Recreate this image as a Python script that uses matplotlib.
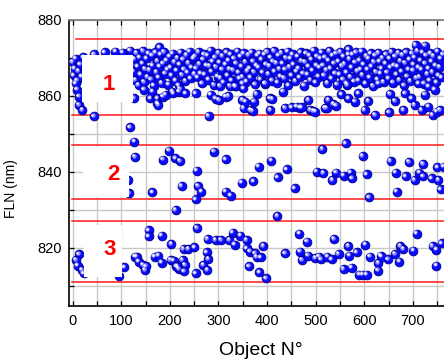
import numpy as np
import matplotlib
matplotlib.use("Agg")
import matplotlib.pyplot as plt
from matplotlib.patches import Rectangle
from matplotlib.transforms import ScaledTranslation

plt.rcParams["font.family"] = ["Liberation Sans", "DejaVu Sans"]

# ── data: FLN per object ────────────────────────────────────────────────────
# group 1, dense band (862–872 nm)
dense_x = [0, 2, 4, 6, 9, 12, 15, 18, 22, 26, 30, 34, 39, 44, 49, 54, 60, 66, 71, 76,
           82, 88, 93, 98, 103, 108, 113, 118, 122,
           125, 127, 129, 132, 134, 136, 138, 140, 143, 145, 147, 149, 152, 154, 156, 158,
           161, 163, 165, 167, 170, 172, 174, 177, 179, 181, 183, 186, 188, 190, 193, 195,
           197, 199, 202, 204, 206, 209, 211, 213, 215, 218, 220, 222, 225, 227, 229, 232,
           234, 236, 238, 241, 243, 245, 248, 250,
           252, 254, 257, 259, 261, 263, 266, 268, 270, 272, 275, 277, 279, 282, 284, 286,
           288, 291, 293, 295, 298, 300, 302, 304, 307, 309, 311, 314, 316, 318, 320, 323,
           325, 327, 330, 332, 334, 336, 339, 341, 343, 346, 348, 350, 352, 355, 357, 359,
           362, 364, 366, 368, 371, 373, 375, 378, 380,
           382, 384, 387, 389, 391, 394, 396, 398, 400, 403, 405, 407, 410, 412, 414, 416,
           419, 421, 423, 426, 428, 430, 432, 435, 437, 439, 442, 444, 446, 448, 451, 453,
           455, 458, 460, 462, 464, 467, 469, 471, 474, 476, 478, 480, 483, 485, 487, 490,
           492, 494, 496, 499, 501, 503, 506, 508, 510,
           512, 515, 517, 519, 522, 524, 526, 528, 531, 533, 535, 538, 540, 542, 544, 547,
           549, 551, 554, 556, 558, 560, 563, 565, 567, 570, 572, 574, 576, 579, 581, 583,
           586, 588, 590, 592, 595, 597, 599, 602, 604, 606, 608, 611, 613, 615, 618, 620,
           622, 624, 627, 629, 631, 634, 636, 638, 640,
           643, 645, 647, 650, 652, 654, 656, 659, 661, 663, 666, 668, 670, 672, 675, 677,
           679, 682, 684, 686, 688, 691, 693, 695, 698, 700, 702, 704, 707, 709, 711, 714,
           716, 718, 720, 723, 725, 727, 730, 732, 734, 736, 739, 741, 743, 746, 748, 750,
           752, 755, 757, 759, 762]
dense_y = [868.9, 865.4, 867.2, 869.8, 864.1, 866.6, 868.3, 865.1, 870.2, 866.9, 863.8, 868.7,
           865.9, 871.0, 867.3, 864.6, 869.4, 871.5, 866.2, 868.8, 863.5, 871.7, 867.6, 865.2,
           871.4, 869.3, 866.0, 871.9, 868.1,
           866.4, 869.7, 864.2, 871.3, 867.8, 862.9, 870.1, 865.6, 868.5, 871.8, 863.7, 867.1,
           869.9, 865.0, 871.2, 866.8, 864.4, 870.6, 868.0, 862.7, 871.5, 866.3, 869.2, 864.8,
           867.7, 870.9, 863.4, 868.6, 871.6, 865.9, 869.4, 866.9, 863.0, 870.4, 867.5, 865.3,
           871.1, 868.9, 864.0, 866.7, 870.0, 862.8, 868.3, 871.4, 865.5, 869.6, 867.0, 863.9,
           870.8, 866.1, 868.7, 871.7, 864.6, 867.4, 869.8, 865.8,
           870.3, 867.2, 864.9, 871.6, 868.4, 866.0, 863.3, 869.5, 871.0, 865.7, 868.1, 870.7,
           864.3, 867.9, 871.9, 866.5, 869.0, 862.9, 870.2, 867.6, 865.1, 871.3, 868.8, 864.7,
           866.9, 870.5, 863.6, 868.2, 871.5, 865.4, 869.3, 867.1, 871.0, 864.1, 866.8, 869.9,
           862.6, 868.5, 871.7, 866.2, 864.5, 870.4, 867.8, 865.0, 871.2, 868.9, 863.8, 866.6,
           870.8, 867.3, 864.8, 871.4, 869.1, 866.3, 863.1, 868.0, 870.6,
           867.5, 871.1, 864.4, 869.6, 866.1, 870.9, 863.2, 868.3, 871.6, 865.8, 867.9, 870.2,
           864.0, 869.0, 871.8, 866.4, 868.7, 863.5, 870.6, 867.1, 865.2, 871.3, 868.5, 864.7,
           866.9, 870.0, 871.7, 862.8, 867.6, 869.8, 865.4, 871.0, 868.2, 863.9, 866.5, 870.4,
           867.3, 864.9, 871.5, 869.2, 866.0, 862.7, 868.9, 871.2, 865.6, 867.8, 870.7, 864.2,
           869.5, 866.7, 871.9, 863.6, 868.1, 870.3, 865.1, 867.4, 869.9,
           871.4, 868.0, 865.3, 870.1, 866.8, 863.4, 869.4, 871.8, 867.2, 864.6, 870.7, 868.6,
           866.0, 871.1, 863.0, 869.0, 865.7, 871.6, 867.9, 864.3, 870.3, 868.4, 866.2, 862.9,
           871.0, 869.7, 865.0, 867.5, 870.9, 863.8, 868.8, 871.5, 866.6, 864.1, 869.3, 867.0,
           871.7, 865.5, 868.2, 863.3, 870.5, 866.9, 869.8, 864.8, 871.2, 867.7, 862.6, 868.9,
           870.6, 866.3, 864.4, 871.3, 869.1, 865.9, 867.3, 870.0, 863.7,
           868.5, 871.0, 866.1, 864.5, 869.9, 867.4, 871.6, 863.5, 868.1, 870.4, 865.6, 867.8,
           871.3, 864.2, 869.2, 866.5, 870.8, 862.8, 868.7, 871.5, 865.2, 867.0, 869.6, 863.9,
           871.1, 866.7, 868.3, 870.2, 864.7, 871.8, 867.5, 865.0, 869.4, 866.9, 871.4, 863.2,
           868.6, 870.7, 865.8, 867.2, 864.0, 871.2, 869.0, 866.3, 870.5, 868.0, 863.6, 871.7,
           865.4, 867.6, 869.8, 864.9, 870.9]

# group 1, scattered points above / below the band
sparse1_x = [178, 567, 706, 725,
             6, 9, 13, 13, 20, 44, 126, 147, 160, 164, 174, 174, 176, 186, 191, 205, 207, 219,
             221, 232, 253, 280, 284, 294, 301, 303, 315, 320, 324, 335, 349, 349, 351, 352,
             355, 366, 370, 373, 379, 396, 406, 407, 411, 433, 437, 451, 461, 468, 471, 485,
             489, 495, 499, 519, 523, 526, 536, 542, 553, 564, 567, 581, 588, 601, 608, 622,
             629, 651, 653, 663, 680, 684, 697, 704, 711, 718, 725, 732, 732, 741, 745, 749,
             756]
sparse1_y = [872.8, 872.3, 873.4, 873.2,
             863.3, 861.6, 859.8, 857.6, 856.3, 854.6, 859.4, 861.6, 859.4, 861.1, 859.4,
             858.1, 857.6, 859.8, 860.3, 861.1, 860.7, 861.1, 861.8, 860.7, 860.7, 854.7,
             860.3, 859.3, 858.9, 862.6, 859.8, 860.0, 862.6, 862.5, 863.3, 858.9, 862.0,
             856.8, 858.5, 856.3, 856.0, 858.5, 860.5, 863.3, 859.4, 856.3, 859.2, 861.1,
             856.8, 857.0, 857.2, 856.9, 857.0, 858.9, 856.3, 856.0, 855.9, 856.8, 856.8,
             858.9, 857.9, 857.4, 860.4, 863.2, 859.4, 858.5, 860.7, 856.3, 858.7, 855.0,
             863.3, 855.7, 860.5, 858.7, 856.3, 860.7, 859.4, 857.6, 863.3, 856.3, 860.3,
             857.2, 862.5, 855.0, 861.6, 855.9, 856.3]

# group 2 (833–847 nm)
g2_x = [118, 127, 128, 114, 116, 164, 186, 198, 211, 221, 224, 255, 258, 265, 253, 212,
        291, 315, 383, 409, 440, 422, 348, 372, 315, 325, 457, 502, 516, 514, 421, 562,
        597, 654, 692, 721, 750, 763, 542, 534, 558, 572, 575, 605, 665, 685, 704, 713,
        721, 739, 752, 757, 610, 667]
g2_y = [851.7, 848.0, 843.9, 837.9, 834.4, 834.6, 843.2, 845.6, 843.6, 842.9, 836.3, 840.3,
        836.3, 834.8, 832.8, 830.0, 845.3, 843.3, 841.4, 843.0, 840.7, 838.6, 837.2, 837.5,
        834.8, 833.7, 835.7, 840.1, 839.7, 846.0, 828.4, 847.5, 844.2, 842.9, 842.6, 842.1,
        841.2, 841.4, 839.8, 837.9, 839.0, 839.8, 838.3, 839.4, 839.8, 838.8, 837.9, 839.8,
        838.8, 838.3, 837.9, 835.4, 833.3, 834.8]

# group 3 (811–827 nm)
g3_x = [156, 156, 183, 256, 203, 228, 238, 250, 13, 7, 10, 19, 23, 95, 106, 128, 132, 136,
        145, 149, 151, 169, 176, 183, 202, 208, 213, 226, 231, 219, 229, 253, 215, 269, 277,
        278, 294, 305, 322, 329, 333, 345, 358, 358, 365, 375, 379, 387, 392, 363, 384, 398,
        276, 279, 437, 466, 482, 468, 472, 484, 499, 507, 511,
        538, 524, 533, 547, 567, 569, 584, 602, 558, 574, 590, 597, 605, 628, 629, 634, 649,
        663, 674, 680, 672, 701, 708, 741, 748, 759, 748, 612, 636]
g3_y = [824.6, 823.0, 823.2, 825.2, 821.0, 819.7, 819.7, 820.1, 818.3, 816.8, 815.3, 814.2,
        813.3, 812.7, 814.9, 817.7, 817.7, 816.4, 815.5, 814.2, 815.1, 817.7, 817.9, 816.1,
        816.8, 816.6, 815.1, 816.8, 815.5, 814.4, 813.8, 813.3, 815.0, 815.5, 814.2, 822.3,
        822.1, 822.1, 822.1, 824.0, 820.8, 823.2, 822.1, 819.9, 819.0, 818.6, 817.6, 817.5,
        820.5, 815.1, 813.6, 812.0, 818.8, 817.1, 818.6, 823.7, 821.6, 819.0, 816.8, 817.9,
        817.3, 817.7, 817.0,
        822.3, 817.7, 817.0, 818.4, 820.5, 817.9, 818.8, 820.8, 814.4, 814.8, 812.9, 812.9,
        812.9, 814.0, 816.0, 817.9, 817.0, 818.4, 820.5, 819.7, 816.4, 819.3, 823.7, 820.5,
        819.5, 821.2, 815.3, 817.7, 817.7]

# red separator lines (nm) and where they start on the x axis
line_levels = [875, 855, 847, 833, 827, 811]
line_start = [7, -2, -2, -2, -2, -2]

# class labels and their white boxes (x0, x1, y0, y1) in data units
labels = ["1", "2", "3"]
label_x = [75, 84, 76]
label_y = [863.1, 839.3, 819.7]
boxes = [(20, 124, 858.3, 870.7), (21, 116, 833.5, 846.5), (23, 101, 812.4, 825.9)]


def pairs(xs, ys):
    n = min(len(xs), len(ys))
    return list(xs[:n]), list(ys[:n])


px, py = [], []
for xs, ys in [(dense_x, dense_y), (sparse1_x, sparse1_y), (g2_x, g2_y), (g3_x, g3_y)]:
    a, b = pairs(xs, ys)
    px += a
    py += b
px = np.array(px, dtype=float)
py = np.array(py, dtype=float)

# ── figure ───────────────────────────────────────────────────────────────────
fig = plt.figure(figsize=(4.44, 3.61), dpi=100)
ax = fig.add_axes([0.1554, 0.1524, 0.8446, 0.7922])
ax.set_xlim(-7.6, 764)
ax.set_ylim(804.7, 880)

ax.set_xticks(np.arange(0, 701, 100))
ax.set_xticks(np.arange(50, 751, 100), minor=True)
ax.set_yticks([820, 840, 860, 880])
ax.set_yticks([810, 830, 850, 870], minor=True)
ax.grid(True, which="both", color="#c8c8c8", linewidth=1.0, zorder=0)
ax.set_axisbelow(True)

ax.tick_params(which="both", direction="in", length=3.5, width=0.9, top=True,
               right=False, labelsize=10.5, colors="black")
ax.tick_params(axis="x", pad=6)
ax.tick_params(axis="y", pad=5)

ax.spines["right"].set_visible(False)
ax.spines["top"].set_color("#808080")
ax.spines["top"].set_linewidth(1.3)
for s in ["left", "bottom"]:
    ax.spines[s].set_linewidth(1.2)

# red lines
for lvl, x0 in zip(line_levels, line_start):
    ax.plot([x0, 800], [lvl, lvl], color="#ff1a1a", linewidth=1.1, zorder=2,
            clip_on=True)

# 3D-looking balls: base + light halo + white spot, shifted up-left
ax.scatter(px, py, s=40, color="#0a0aff", edgecolors="#00008c", linewidths=0.6,
           zorder=3)
t1 = ax.transData + ScaledTranslation(-1.0 / 72, 1.0 / 72, fig.dpi_scale_trans)
ax.scatter(px, py, s=10, color="#8c8cff", linewidths=0, zorder=3.1, transform=t1)
t2 = ax.transData + ScaledTranslation(-1.2 / 72, 1.2 / 72, fig.dpi_scale_trans)
ax.scatter(px, py, s=3, color="white", linewidths=0, zorder=3.2, transform=t2)

# label boxes
for (x0, x1, y0, y1), lab, lx, ly in zip(boxes, labels, label_x, label_y):
    ax.add_patch(Rectangle((x0, y0), x1 - x0, y1 - y0, facecolor="white",
                           edgecolor="none", zorder=4))
    ax.text(lx, ly, lab, color="#ff0000", fontsize=16, fontweight="bold",
            ha="center", va="center", zorder=5)

ax.set_xlabel("Object N°", fontsize=14)
ax.xaxis.set_label_coords(0.512, -0.125)
ax.set_ylabel("FLN (nm)", fontsize=10)
ax.yaxis.set_label_coords(-0.135, 0.41)

fig.savefig("out.png", dpi=100, facecolor="white")
